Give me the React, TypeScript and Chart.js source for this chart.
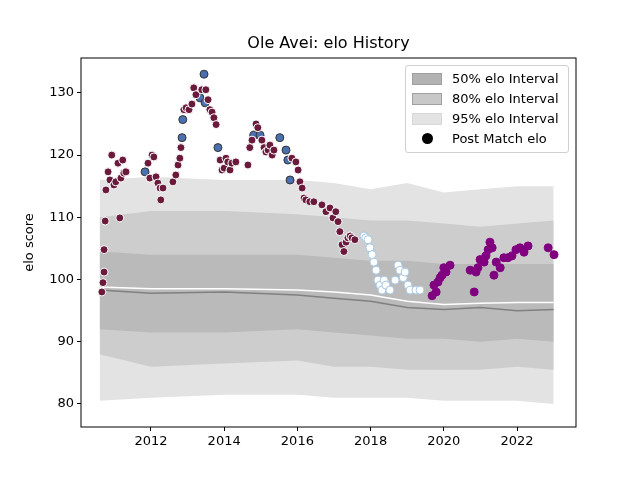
import React, { useRef, useEffect } from 'react';
import Chart from 'chart.js/auto';

// band / line sample years
const bandYears = [2010.6, 2012, 2014, 2016, 2017, 2018, 2019, 2020, 2021, 2022, 2023];
const upper95 = [116, 116.5, 116, 116, 115.5, 114.5, 115.5, 114, 114.5, 115, 115];
const lower95 = [80.5, 81, 81.5, 81.5, 81, 81, 81, 80.5, 80.5, 80.5, 80];
const upper80 = [110, 111, 111, 110.5, 110, 109.5, 109.5, 109, 108.5, 109, 109.5];
const lower80 = [88, 86, 86.5, 87, 86, 86, 85.5, 85.5, 85.5, 86, 85.5];
const upper50 = [104.5, 104, 104, 104, 103.5, 103, 103, 102.5, 102.5, 102.5, 102.5];
const lower50 = [92, 91.5, 91.5, 92, 91.5, 91, 90.5, 90.5, 90, 90.5, 90];
const median = [98.3, 97.8, 98, 97.5, 97, 96.5, 95.5, 95.2, 95.5, 95, 95.2];
const expected = [98.8, 98.5, 98.5, 98.3, 98, 97.5, 96.5, 96, 96.2, 96.3, 96.3];

// post match elo [year, elo]
const redPts = [
  [2010.66, 98.0], [2010.69, 99.5], [2010.72, 101.2], [2010.72, 104.8], [2010.75, 109.4],
  [2010.77, 114.4], [2010.83, 117.3], [2010.88, 116.0], [2010.93, 120.0], [2010.99, 115.2],
  [2011.04, 115.7], [2011.1, 118.7], [2011.15, 109.9], [2011.18, 116.3], [2011.23, 119.2],
  [2011.26, 117.1], [2011.32, 117.3], [2011.92, 118.7], [2011.97, 116.3], [2012.03, 120.0],
  [2012.08, 119.7], [2012.14, 116.5], [2012.19, 115.5], [2012.25, 114.7], [2012.27, 112.8],
  [2012.33, 114.7], [2012.6, 115.7], [2012.68, 116.8], [2012.74, 118.4], [2012.79, 119.5],
  [2012.82, 121.2], [2012.9, 127.3], [2012.96, 127.6], [2013.04, 127.3], [2013.12, 128.2],
  [2013.17, 130.8], [2013.23, 129.7], [2013.39, 130.5], [2013.5, 130.5], [2013.56, 128.9],
  [2013.61, 127.3], [2013.67, 126.9], [2013.72, 126.0], [2013.78, 124.9], [2013.89, 119.2],
  [2013.94, 117.6], [2014.0, 117.9], [2014.05, 119.5], [2014.1, 118.9], [2014.16, 117.6],
  [2014.21, 118.7], [2014.32, 118.9], [2014.65, 118.4], [2014.7, 121.2], [2014.76, 122.4],
  [2014.87, 125.0], [2014.92, 124.4], [2015.03, 122.4], [2015.09, 121.2], [2015.14, 120.5],
  [2015.2, 120.8], [2015.25, 121.6], [2015.31, 120.0], [2015.36, 120.8], [2015.85, 119.5],
  [2015.96, 118.9], [2016.02, 117.6], [2016.07, 115.7], [2016.13, 114.7], [2016.18, 113.1],
  [2016.23, 112.8], [2016.34, 112.5], [2016.45, 112.5], [2016.67, 112.0], [2016.78, 110.9],
  [2016.89, 111.5], [2016.97, 109.9], [2017.05, 110.9], [2017.11, 109.3], [2017.16, 107.7],
  [2017.22, 105.6], [2017.27, 104.5], [2017.33, 106.0], [2017.38, 106.7], [2017.44, 107.0],
  [2017.49, 106.7], [2017.57, 106.4],
];
const bluePts = [
  [2011.84, 117.3], [2012.85, 122.8], [2012.87, 125.7], [2013.34, 129.2], [2013.45, 133.0],
  [2013.48, 128.4], [2013.83, 121.2], [2014.81, 123.2], [2014.98, 123.2], [2015.52, 122.8],
  [2015.69, 120.8], [2015.74, 119.2], [2015.8, 116.0],
];
const whitePts = [
  [2017.82, 107.0], [2017.87, 106.7], [2017.93, 106.4], [2017.98, 105.1], [2018.04, 104.0],
  [2018.09, 102.8], [2018.15, 101.5], [2018.2, 99.9], [2018.26, 99.1], [2018.31, 98.3],
  [2018.37, 99.9], [2018.42, 99.1], [2018.53, 98.3], [2018.67, 99.9], [2018.75, 102.3],
  [2018.8, 101.5], [2018.89, 100.3], [2018.94, 101.2], [2019.02, 99.1], [2019.08, 98.3],
  [2019.24, 98.3], [2019.35, 98.3],
];
const purplePts = [
  [2019.68, 97.4], [2019.73, 99.1], [2019.79, 98.0], [2019.84, 99.6], [2019.9, 100.3],
  [2019.95, 100.7], [2020.0, 101.9], [2020.06, 101.2], [2020.17, 102.3], [2020.72, 101.5],
  [2020.83, 98.0], [2020.88, 101.2], [2020.93, 101.9], [2020.99, 103.2], [2021.1, 102.8],
  [2021.15, 103.8], [2021.21, 104.8], [2021.26, 106.0], [2021.32, 105.1], [2021.37, 100.7],
  [2021.43, 102.8], [2021.54, 101.9], [2021.64, 103.5], [2021.75, 103.5], [2021.86, 103.8],
  [2021.97, 104.8], [2022.08, 105.1], [2022.19, 104.4], [2022.3, 105.4], [2022.85, 105.1],
  [2023.01, 104.0],
];
const xTicks = [2012, 2014, 2016, 2018, 2020, 2022];
const yTicks = [80, 90, 100, 110, 120, 130];

const FONT = 'DejaVu Sans';
const toXY = (ys: number[]) => ys.map((y, i) => ({ x: bandYears[i], y }));
const toPts = (p: number[][]) => p.map(([x, y]) => ({ x, y }));

const frame = {
  id: 'frame',
  afterDraw(chart: any) {
    const { ctx, chartArea: a } = chart;
    ctx.save();
    ctx.strokeStyle = '#000';
    ctx.lineWidth = 1;
    ctx.strokeRect(a.left, a.top, a.right - a.left, a.bottom - a.top);
    ctx.restore();
  },
};

const band = (hi: number[], lo: number[], color: string, order: number) => [
  { type: 'line', data: toXY(hi), borderWidth: 0, pointRadius: 0, fill: '+1', backgroundColor: color, order },
  { type: 'line', data: toXY(lo), borderWidth: 0, pointRadius: 0, fill: false, order },
];

const scatter = (p: number[][], bg: string, border: string) => ({
  type: 'scatter', data: toPts(p), backgroundColor: bg, borderColor: border,
  borderWidth: 1, pointRadius: 4, order: 0,
});

const App = () => {
  const ref = useRef<HTMLCanvasElement>(null);

  useEffect(() => {
    document.body.style.margin = '0';
    const ctx = ref.current?.getContext('2d');
    if (!ctx) return;
    const chart = new Chart(ctx, {
      type: 'scatter',
      data: {
        datasets: [
          ...band(upper95, lower95, '#e3e3e3', 5),
          ...band(upper80, lower80, '#cdcdcd', 4),
          ...band(upper50, lower50, '#bababa', 3),
          { type: 'line', data: toXY(median), borderColor: '#808080', borderWidth: 1.5, pointRadius: 0, fill: false, order: 2 },
          { type: 'line', data: toXY(expected), borderColor: '#ffffff', borderWidth: 1.5, pointRadius: 0, fill: false, order: 1 },
          scatter(redPts, '#6b1a3c', '#ffffff'),
          scatter(bluePts, '#4a70b0', '#333333'),
          scatter(whitePts, '#ffffff', '#a8c8e4'),
          scatter(purplePts, '#800080', '#800080'),
        ] as any,
      },
      options: {
        animation: false,
        responsive: false,
        layout: { padding: { top: 58, right: 64, left: 22 } },
        plugins: { legend: { display: false }, tooltip: { enabled: false } },
        scales: {
          x: {
            type: 'linear', min: 2010.09, max: 2023.61,
            afterBuildTicks: (s: any) => { s.ticks = xTicks.map((value) => ({ value })); },
            afterFit: (s: any) => { s.height = 53; },
            ticks: { color: '#000', font: { family: FONT, size: 13 }, callback: (v: any) => String(v), maxRotation: 0 },
            grid: { drawOnChartArea: false, tickLength: 4, color: '#000' },
            border: { display: false },
          },
          y: {
            min: 76.3, max: 135.6,
            afterBuildTicks: (s: any) => { s.ticks = yTicks.map((value) => ({ value })); },
            afterFit: (s: any) => { s.width = 59; },
            title: { display: true, text: 'elo score', color: '#000', font: { family: FONT, size: 13 }, padding: 0 },
            ticks: { color: '#000', font: { family: FONT, size: 13 } },
            grid: { drawOnChartArea: false, tickLength: 4, color: '#000' },
            border: { display: false },
          },
        },
      },
      plugins: [frame],
    });
    return () => chart.destroy();
  }, []);

  const legendItems = [
    { label: '50% elo Interval', color: '#b3b3b3' },
    { label: '80% elo Interval', color: '#c8c8c8' },
    { label: '95% elo Interval', color: '#e3e3e3' },
  ];

  return (
    <div style={{ position: 'relative', width: 640, height: 480, fontFamily: FONT }}>
      <canvas ref={ref} width={640} height={480} />
      <div style={{ position: 'absolute', top: 33, left: 0, width: 657, textAlign: 'center', fontSize: 16 }}>
        Ole Avei: elo History
      </div>
      <div style={{
        position: 'absolute', left: 405, top: 65, width: 162, height: 86, background: 'rgba(255,255,255,0.8)',
        border: '1px solid #d0d0d0', borderRadius: 3, fontSize: 13,
      }}>
        {legendItems.map((it, i) => (
          <div key={i} style={{ position: 'absolute', left: 6, top: 4 + i * 20, height: 17, display: 'flex', alignItems: 'center' }}>
            <span style={{ width: 28, height: 10, background: it.color, border: `1px solid ${it.color === '#e3e3e3' ? '#d8d8d8' : '#a0a0a0'}`, display: 'inline-block', marginRight: 10 }} />
            {it.label}
          </div>
        ))}
        <div style={{ position: 'absolute', left: 6, top: 64, height: 17, display: 'flex', alignItems: 'center' }}>
          <span style={{ width: 30, display: 'inline-flex', justifyContent: 'center', marginRight: 10 }}>
            <span style={{ width: 11, height: 11, borderRadius: '50%', background: '#000', display: 'inline-block' }} />
          </span>
          Post Match elo
        </div>
      </div>
    </div>
  );
};

export default App;
